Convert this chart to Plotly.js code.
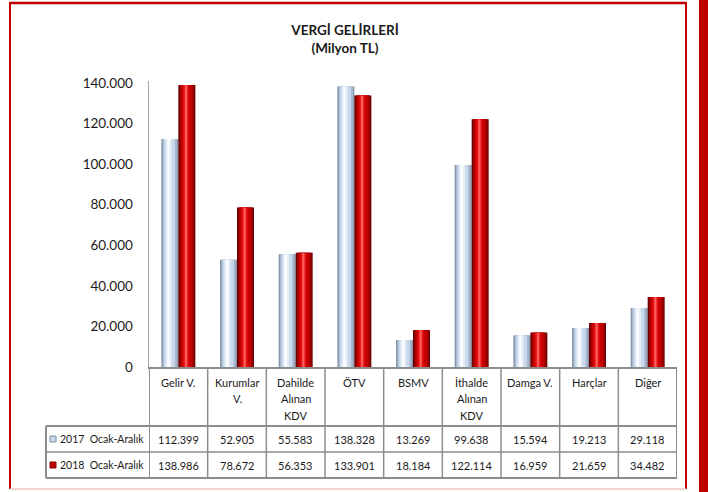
<!DOCTYPE html>
<html>
<head>
<meta charset="utf-8">
<script src="https://cdn.plot.ly/plotly-3.0.1.min.js"></script>
<style>html,body{margin:0;padding:0;background:#fff;}#chart{width:708px;height:492px;}</style>
</head>
<body>
<div id="chart"></div>
<script>
// ---- data ----
const categories = ["Gelir V.", "Kurumlar<br>V.", "Dahilde<br>Alınan<br>KDV", "ÖTV", "BSMV", "İthalde<br>Alınan<br>KDV", "Damga V.", "Harçlar", "Diğer"];
const values2017 = [112399, 52905, 55583, 138328, 13269, 99638, 15594, 19213, 29118];
const values2018 = [138986, 78672, 56353, 133901, 18184, 122114, 16959, 21659, 34482];
const seriesNames = ["2017\u00a0 Ocak-Aralık", "2018\u00a0 Ocak-Aralık"];
const yTicks = [0, 20000, 40000, 60000, 80000, 100000, 120000, 140000];
const chartTitle = "VERGİ GELİRLERİ";
const chartSubtitle = "(Milyon TL)";

// ---- geometry helpers (pixel -> paper) ----
const W = 708, H = 492;
const M = {l: 149, r: 31, t: 81, b: 125};
const PW = W - M.l - M.r, PH = H - M.t - M.b;
const px = x => (x - M.l) / PW;
const py = y => (H - M.b - y) / PH;
const FONT = "Lato, DejaVu Sans Condensed, sans-serif";
const TXT = "#1a1a1a";
const TS = 11;

const xs = categories.map((c, i) => i);
const barW = 0.29;

const blueLayers = [
  {a: 0.00, b: 1.00, c: "#8796ab"},
  {a: 0.08, b: 0.92, c: "#a9bbd1"},
  {a: 0.16, b: 0.80, c: "#c9d9ec"},
  {a: 0.26, b: 0.62, c: "#e2ecf8"},
  {a: 0.34, b: 0.50, c: "#fafcff"}
];
const redLayers = [
  {a: 0.00, b: 1.00, c: "#6a0000"},
  {a: 0.08, b: 0.94, c: "#990000"},
  {a: 0.16, b: 0.82, c: "#c40000"},
  {a: 0.28, b: 0.62, c: "#e51010"},
  {a: 0.38, b: 0.52, c: "#ff5a5a"}
];

const traces = [];
function addSeries(vals, layers, start, name) {
  layers.forEach((L, k) => {
    traces.push({
      type: "bar", x: xs, y: vals, name: name,
      width: barW * (L.b - L.a), offset: start + barW * L.a,
      marker: {color: L.c, line: {width: 0}},
      showlegend: false, hoverinfo: k === 0 ? "y+name" : "skip"
    });
  });
}
addSeries(values2017, blueLayers, -barW, seriesNames[0]);
addSeries(values2018, redLayers, 0, seriesNames[1]);

const fmt = v => String(v).replace(/\B(?=(\d{3})+(?!\d))/g, ".");

const grey = "#8c8c8c";
const shapes = [];
const annotations = [];
function hline(x0, x1, y, w, col) {
  shapes.push({type: "line", xref: "paper", yref: "paper", x0: px(x0), x1: px(x1), y0: py(y), y1: py(y), line: {color: col || grey, width: w || 1.5}});
}
// table rows
const rowTop = 426, rowMid = 452, rowBot = 478, tabLeft = 46, tabRight = W - M.r;
hline(tabLeft, tabRight, rowTop, 2);
hline(tabLeft, tabRight, rowMid, 1.5);
hline(tabLeft, tabRight, rowBot, 2);
shapes.push({type: "line", xref: "paper", yref: "paper", x0: px(tabLeft), x1: px(tabLeft), y0: py(rowTop), y1: py(rowBot), line: {color: grey, width: 2}});
for (let i = 0; i <= categories.length; i++) {
  shapes.push({type: "line", xref: "x", yref: "paper", x0: i - 0.5, x1: i - 0.5, y0: py(367), y1: py(rowBot),
    line: {color: grey, width: (i === 0 || i === categories.length) ? 2 : 1.5}});
}
// legend markers inside table
shapes.push({type: "rect", xref: "paper", yref: "paper", x0: px(50), x1: px(56), y0: py(436), y1: py(442), fillcolor: "#c9d9ec", line: {color: "#7f8fa6", width: 1}});
shapes.push({type: "rect", xref: "paper", yref: "paper", x0: px(50), x1: px(56), y0: py(462), y1: py(468), fillcolor: "#c00000", line: {color: "#8a0000", width: 1}});
// red frame
shapes.push({type: "line", xref: "paper", yref: "paper", x0: px(9), x1: px(687), y0: py(3), y1: py(3), line: {color: "#c00000", width: 2.5}});
shapes.push({type: "line", xref: "paper", yref: "paper", x0: px(10), x1: px(10), y0: py(3), y1: py(489), line: {color: "#c00000", width: 2}});
shapes.push({type: "line", xref: "paper", yref: "paper", x0: px(686), x1: px(686), y0: py(3), y1: py(489), line: {color: "#c00000", width: 2}});
shapes.push({type: "line", xref: "paper", yref: "paper", x0: px(10), x1: px(686), y0: py(489), y1: py(489), line: {color: "#efc4c4", width: 1.5}});
shapes.push({type: "rect", xref: "paper", yref: "paper", x0: px(699), x1: px(709), y0: py(-2), y1: py(494), fillcolor: "#c00000", line: {width: 0}});

// category header labels and table values
categories.forEach((c, i) => {
  c.split("<br>").forEach((line, j) => {
    annotations.push({xref: "x", yref: "paper", x: i, y: py(382 + j * 16.5), text: line, showarrow: false,
      xanchor: "center", yanchor: "middle", font: {family: FONT, size: TS, color: TXT}});
  });
  annotations.push({xref: "x", yref: "paper", x: i, y: py(439), text: fmt(values2017[i]), showarrow: false,
    xanchor: "center", yanchor: "middle", font: {family: FONT, size: TS, color: TXT}});
  annotations.push({xref: "x", yref: "paper", x: i, y: py(465), text: fmt(values2018[i]), showarrow: false,
    xanchor: "center", yanchor: "middle", font: {family: FONT, size: TS, color: TXT}});
});
annotations.push({xref: "paper", yref: "paper", x: px(58), y: py(439), text: seriesNames[0], showarrow: false,
  xanchor: "left", yanchor: "middle", font: {family: FONT, size: 10.5, color: TXT}});
annotations.push({xref: "paper", yref: "paper", x: px(58), y: py(465), text: seriesNames[1], showarrow: false,
  xanchor: "left", yanchor: "middle", font: {family: FONT, size: 10.5, color: TXT}});

const layout = {
  width: W, height: H, autosize: false,
  margin: {l: M.l, r: M.r, t: M.t, b: M.b, pad: 0},
  paper_bgcolor: "#ffffff", plot_bgcolor: "#ffffff",
  separators: ",.",
  barmode: "overlay",
  showlegend: false,
  title: {
    text: "<b>" + chartTitle + "</b><br><b>" + chartSubtitle + "</b>",
    x: 345 / W, xanchor: "center", y: 1 - 35 / H, yanchor: "middle",
    font: {family: FONT, size: 13.5, color: TXT}
  },
  xaxis: {
    range: [-0.5, categories.length - 0.5], showticklabels: false, ticks: "",
    showline: true, linecolor: grey, linewidth: 1.5, showgrid: false, zeroline: false, fixedrange: true
  },
  yaxis: {
    range: [0, 141000], tickvals: yTicks, tickformat: ",d",
    ticks: "outside", ticklen: 12, tickcolor: "rgba(0,0,0,0)",
    showline: true, linecolor: "#a6a6a6", linewidth: 1.5, showgrid: false, zeroline: false, fixedrange: true,
    tickfont: {family: FONT, size: 13.5, color: TXT}
  },
  shapes: shapes,
  annotations: annotations
};

Plotly.newPlot("chart", traces, layout, {displayModeBar: false, staticPlot: true});
</script>
</body>
</html>
